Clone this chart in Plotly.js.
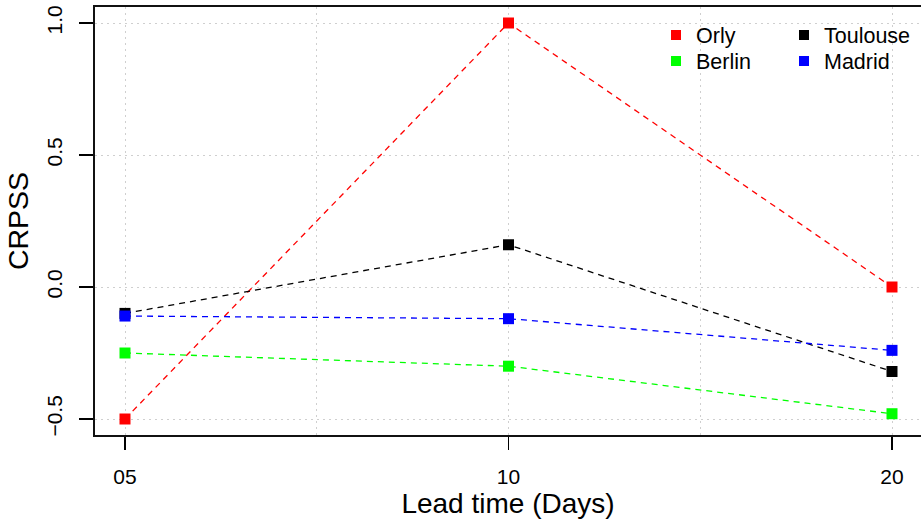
<!DOCTYPE html>
<html>
<head>
<meta charset="utf-8">
<script src="https://cdn.plot.ly/plotly-3.0.1.min.js"></script>
<style>
  html, body { margin: 0; padding: 0; background: #ffffff; }
  #chart { width: 921px; height: 519px; }
</style>
</head>
<body>
<div id="chart"></div>
<script>
// Lead times (categorical positions 1..3) and their labels
const leadIndex = [1, 2, 3];
const leadLabels = ['05', '10', '20'];

// CRPSS per station
const stationNames = ['Orly', 'Berlin', 'Toulouse', 'Madrid'];
const orly     = [-0.50, 1.00, 0.00];
const berlin   = [-0.25, -0.30, -0.48];
const toulouse = [-0.10, 0.16, -0.32];
const madrid   = [-0.11, -0.12, -0.24];

const seriesValues = [orly, berlin, toulouse, madrid];
const seriesColors = ['#ff0000', '#00ff00', '#000000', '#0000ff'];

const FONT = 'Liberation Sans, Arial, Helvetica, sans-serif';

// Dashed lines with square markers
const traces = seriesValues.map((vals, i) => ({
  type: 'scatter',
  mode: 'lines+markers',
  x: leadIndex,
  y: vals,
  name: stationNames[i],
  showlegend: false,
  line: { color: seriesColors[i], width: 1.3, dash: '6px,5px' },
  marker: { symbol: 'square', size: 11, color: seriesColors[i], line: { width: 0 } }
}));

// Marker-only legend entries, one legend per entry so the two columns sit exactly
const legendIds = ['legend', 'legend3', 'legend2', 'legend4'];
stationNames.forEach((name, i) => {
  traces.push({
    type: 'scatter',
    mode: 'markers',
    x: [null],
    y: [null],
    name: name,
    legend: legendIds[i],
    showlegend: true,
    marker: { symbol: 'square', size: 10, color: seriesColors[i], line: { width: 0 } }
  });
});

const legendBase = {
  bgcolor: 'rgba(0,0,0,0)',
  borderwidth: 0,
  font: { family: FONT, size: 21.5, color: '#000' },
  xanchor: 'left',
  yanchor: 'middle'
};

const gridColor = '#cfcfcf';
const gridDash = '2px,4px';

const col1 = 656, col2 = 784;

const layout = {
  width: 921,
  height: 519,
  margin: { l: 95, r: 0, t: 7, b: 84 },
  paper_bgcolor: '#ffffff',
  plot_bgcolor: '#ffffff',
  font: { family: FONT, color: '#000' },
  xaxis: {
    range: [1 - 30 / 383.5, 3 + 29 / 383.5],
    tickmode: 'array',
    tickvals: leadIndex,
    ticktext: leadLabels,
    ticks: 'outside',
    ticklen: 13,
    tickwidth: 1.3,
    tickcolor: '#000',
    ticklabelstandoff: 9,
    tickfont: { family: FONT, size: 21, color: '#000' },
    showline: true,
    linecolor: '#111',
    linewidth: 1.8,
    mirror: true,
    zeroline: false,
    showgrid: true,
    gridcolor: gridColor,
    griddash: gridDash,
    gridwidth: 1,
    minor: {
      tickmode: 'array',
      tickvals: [1.5, 2.5],
      ticks: '',
      showgrid: true,
      gridcolor: gridColor,
      griddash: gridDash,
      gridwidth: 1
    },
    title: {
      text: 'Lead time (Days)',
      font: { family: FONT, size: 28, color: '#000' },
      standoff: 6
    }
  },
  yaxis: {
    range: [-0.5606, 1.0606],
    tickmode: 'array',
    tickvals: [-0.5, 0, 0.5, 1.0],
    ticktext: ['\u22120.5', '0.0', '0.5', '1.0'],
    tickangle: -90,
    ticks: 'outside',
    ticklen: 14,
    tickwidth: 1.3,
    tickcolor: '#000',
    ticklabelstandoff: 9,
    tickfont: { family: FONT, size: 21, color: '#000' },
    showline: true,
    linecolor: '#111',
    linewidth: 1.8,
    mirror: false,
    zeroline: false,
    showgrid: true,
    gridcolor: gridColor,
    griddash: gridDash,
    gridwidth: 1,
    title: {
      text: 'CRPSS',
      font: { family: FONT, size: 28.5, color: '#000' },
      standoff: 6
    }
  },
  legend:  Object.assign({}, legendBase, { x: (col1 - 95) / 826, y: (435 - 35) / 428 }),
  legend3: Object.assign({}, legendBase, { x: (col1 - 95) / 826, y: (435 - 61) / 428 }),
  legend2: Object.assign({}, legendBase, { x: (col2 - 95) / 826, y: (435 - 35) / 428 }),
  legend4: Object.assign({}, legendBase, { x: (col2 - 95) / 826, y: (435 - 61) / 428 })
};

Plotly.newPlot('chart', traces, layout, { displayModeBar: false, staticPlot: true });
</script>
</body>
</html>
